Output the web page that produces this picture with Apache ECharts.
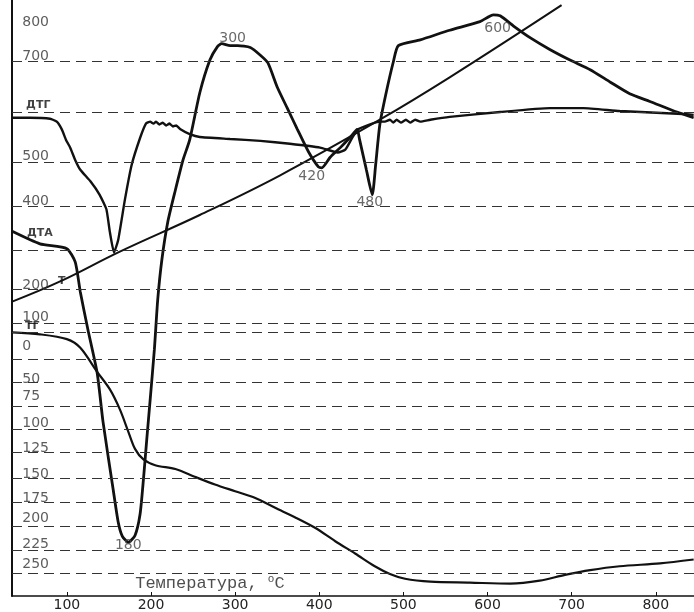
<!DOCTYPE html>
<html lang="ru">
<head>
<meta charset="utf-8">
<title>Термограмма</title>
<script src="https://cdn.jsdelivr.net/npm/echarts@6.0.0/dist/echarts.min.js"></script>
<style>html,body{margin:0;padding:0;background:#fff;}</style>
</head>
<body>
<div id="main" style="width:694px;height:612px;"></div>
<script>
// x: temperature, C; y: TG scale units (inverted), the upper T scale sits on the same axis
var xTicks = [100, 200, 300, 400, 500, 600, 700, 800];

// dashed reference levels (T scale 700..100, then TG 0..250)
var gridLevels = [-282, -229, -177, -131, -85, -45, -10, 0, 28, 52, 77, 101, 125, 152, 176, 201, 226, 250];

// left scale texts and where they sit
var scaleText = ['800', '700', '500', '400', '200', '100', '0', '50', '75', '100', '125', '150', '175', '200', '225', '250'];
var scalePos = [-322, -287, -183, -136, -49, -16, 14, 49, 66, 95, 121, 147, 172, 193, 220, 241];

// heating curve T
var tLine = [[35,-32],[92,-53],[163,-84],[258,-122],[353,-163],[472,-221],[555,-265],[688,-340]];

// ДТГ
var dtg = [[35,-223],[56,-223],[80,-222],[88,-219],[94,-211],[99,-200],[104,-192],[110,-179],[116,-169],
  [128,-157],[139,-143],[147,-128],[151,-105],[156,-83],[161,-96],[169,-138],[177,-174],[187,-202],
  [194,-217],[199,-219],[203,-217],[206,-219],[210,-216],[214,-218],[218,-215],[222,-217],[226,-214],
  [230,-215],[235,-211],[246,-206],[258,-203],[294,-201],[330,-199],[365,-196],[401,-192],[422,-187],
  [431,-190],[439,-202],[446,-211],[472,-219],[478,-219],[484,-221],[488,-218],[492,-221],[497,-218],
  [503,-221],[508,-218],[514,-221],[520,-219],[532,-221],[555,-224],[615,-229],[674,-233],[714,-233],
  [757,-230],[832,-227],[845,-226]];

// ДТА
var dta = [[35,-105],[68,-92],[100,-87],[110,-73],[116,-42],[125,-3],[136,42],[143,93],[155,163],
  [161,197],[166,212],[173,218],[181,211],[187,189],[191,153],[195,111],[199,70],[204,18],[208,-34],
  [213,-76],[220,-115],[229,-148],[238,-179],[246,-200],[258,-249],[270,-283],[279,-297],[284,-300],
  [294,-298],[303,-298],[318,-296],[330,-288],[339,-280],[350,-255],[362,-233],[374,-211],[387,-188],
  [399,-172],[403,-171],[413,-182],[425,-192],[437,-203],[445,-211],[448,-200],[456,-169],[463,-143],
  [467,-174],[472,-216],[479,-247],[488,-281],[494,-298],[520,-304],[555,-314],[591,-323],[607,-330],
  [615,-329],[633,-317],[651,-306],[674,-294],[698,-283],[722,-273],[746,-260],[769,-248],[793,-240],
  [825,-229],[845,-223]];

// ТГ
var tg = [[35,0],[68,2],[100,7],[116,16],[136,41],[151,59],[163,80],[173,103],[181,121],[191,132],
  [205,138],[229,142],[252,150],[276,158],[300,165],[324,172],[347,182],[371,192],[395,203],[419,217],
  [443,230],[466,243],[484,251],[502,256],[532,259],[579,260],[627,261],[662,258],[692,252],[722,247],
  [757,243],[805,240],[845,236]];

var peakText = ['300', '420', '480', '600', '180'];
var peakPos = [[297,-306],[391,-162],[460,-135],[612,-316],[173,221]];

var curveNames = ['ДТГ', 'ДТА', 'Т', 'ТГ'];
var curveNamePos = [[66,-236],[68,-103],[94,-53],[59,-6]];

var xTitle = 'Температура, {sup|o}C';
var xTitlePos = [270, 261];

var chart = echarts.init(document.getElementById('main'), null, {renderer: 'canvas'});

function curve(name, data, width, smooth) {
  return {
    name: name, type: 'line', data: data, showSymbol: false, smooth: smooth,
    lineStyle: {color: '#111', width: width}, silent: true, z: 3
  };
}

function textSeries(points, texts, style) {
  return {
    type: 'scatter', symbolSize: 0, silent: true, z: 5,
    data: points.map(function (p, i) { return [p[0], p[1], texts[i]]; }),
    label: Object.assign({
      show: true, position: 'inside',
      formatter: function (p) { return p.value[2]; }
    }, style)
  };
}

var scaleX = 47;
var scalePoints = scalePos.map(function (v) { return [scaleX, v]; });

var tgSeries = curve('ТГ', tg, 2.2, 0.3);
tgSeries.markLine = {
  silent: true, symbol: 'none', label: {show: false},
  lineStyle: {color: '#333', width: 1, type: [10, 6]},
  data: gridLevels.map(function (v) { return {yAxis: v}; })
};

chart.setOption({
  animation: false,
  backgroundColor: '#fff',
  grid: {left: 12, right: 0, top: 0, bottom: 15},
  xAxis: {
    type: 'value', min: 34.8, max: 845.4,
    splitLine: {show: false},
    axisLine: {onZero: false, lineStyle: {color: '#111', width: 1.5}},
    axisTick: {customValues: xTicks, inside: true, length: 4, lineStyle: {color: '#111'}},
    axisLabel: {customValues: xTicks, margin: 2, color: '#222', fontSize: 14, fontFamily: 'DejaVu Sans'}
  },
  yAxis: {
    type: 'value', inverse: true, min: -345.4, max: 273.9,
    splitLine: {show: false},
    axisLine: {show: true, onZero: false, lineStyle: {color: '#111', width: 2}},
    axisTick: {show: false},
    axisLabel: {show: false}
  },
  series: [
    tgSeries,
    curve('Т', tLine, 2, 0.4),
    curve('ДТГ', dtg, 2.4, 0.15),
    curve('ДТА', dta, 2.8, 0.2),
    textSeries(scalePoints, scaleText, {align: 'left', color: '#333', fontSize: 14, fontFamily: 'DejaVu Sans'}),
    textSeries(peakPos, peakText, {color: '#444', fontSize: 14, fontFamily: 'DejaVu Sans'}),
    textSeries(curveNamePos, curveNames, {color: '#111', fontSize: 11, fontWeight: 'bold', fontFamily: 'DejaVu Sans'}),
    textSeries([xTitlePos], [xTitle], {
      color: '#222', fontSize: 17, fontFamily: 'Liberation Mono',
      rich: {sup: {fontSize: 11, fontFamily: 'Liberation Mono', color: '#222', verticalAlign: 'top', padding: [0, 0, 8, 0]}}
    })
  ]
});
</script>
</body>
</html>
